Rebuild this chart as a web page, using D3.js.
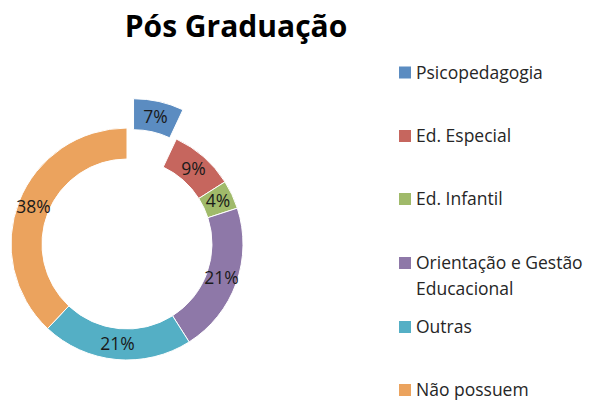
<!DOCTYPE html>
<html>
<head>
<meta charset="utf-8">
<script src="https://cdn.jsdelivr.net/npm/d3@7"></script>
<style>
  body { margin: 0; background: #fff; }
  text { font-family: "Open Sans", "Noto Sans", sans-serif; }
</style>
</head>
<body>
<div id="chart"></div>
<script>
// data
var categories = ["Psicopedagogia", "Ed. Especial", "Ed. Infantil", "Orientação e Gestão Educacional", "Outras", "Não possuem"];
var legendLines = [["Psicopedagogia"], ["Ed. Especial"], ["Ed. Infantil"], ["Orientação e Gestão", "Educacional"], ["Outras"], ["Não possuem"]];
var values = [7, 9, 4, 21, 21, 38];
var colors = ["#5B8CC1", "#C6665E", "#A0BA6A", "#8E78A8", "#54AFC5", "#EBA35E"];
var exploded = [30, 0, 0, 0, 0, 0];

var width = 596, height = 400;
var cx = 127, cy = 244, outerR = 116, innerR = 85;

var svg = d3.select("#chart")
  .append("svg")
    .attr("width", width)
    .attr("height", height);

// title
svg.append("text")
  .attr("x", 236)
  .attr("y", 37)
  .attr("text-anchor", "middle")
  .attr("font-size", 30)
  .attr("font-weight", "bold")
  .attr("fill", "#000")
  .text("Pós Graduação");

var pie = d3.pie().sort(null).value(function(d) { return d; });
var arc = d3.arc().innerRadius(innerR).outerRadius(outerR);
var arcs = pie(values);

var g = svg.append("g")
  .attr("transform", "translate(" + cx + "," + cy + ")");

var slices = g.selectAll("g.slice")
  .data(arcs)
  .enter().append("g")
    .attr("class", "slice")
    .attr("transform", function(d, i) {
      var a = (d.startAngle + d.endAngle) / 2;
      var off = exploded[i];
      return "translate(" + (Math.sin(a) * off) + "," + (-Math.cos(a) * off) + ")";
    });

slices.append("path")
  .attr("d", arc)
  .attr("fill", function(d, i) { return colors[i]; })
  .attr("stroke", "#fff")
  .attr("stroke-width", 1);

slices.append("text")
  .attr("transform", function(d) { return "translate(" + arc.centroid(d) + ")"; })
  .attr("text-anchor", "middle")
  .attr("dy", "0.35em")
  .attr("font-size", 17.5)
  .attr("fill", "#1a1a1a")
  .text(function(d) { return d.data + "%"; });

// legend
var legendY = [72.5, 136, 199, 263, 327, 390];
var legend = svg.append("g");
var items = legend.selectAll("g")
  .data(categories)
  .enter().append("g")
    .attr("transform", function(d, i) { return "translate(399," + legendY[i] + ")"; });

items.append("rect")
  .attr("x", 0)
  .attr("y", -6)
  .attr("width", 12)
  .attr("height", 12)
  .attr("fill", function(d, i) { return colors[i]; });

items.each(function(d, i) {
  var t = d3.select(this).append("text")
    .attr("x", 17)
    .attr("y", 0)
    .attr("font-size", 17.5)
    .attr("fill", "#262626");
  legendLines[i].forEach(function(line, j) {
    t.append("tspan")
      .attr("x", 17)
      .attr("dy", j === 0 ? "0.35em" : 26)
      .text(line);
  });
});
</script>
</body>
</html>
